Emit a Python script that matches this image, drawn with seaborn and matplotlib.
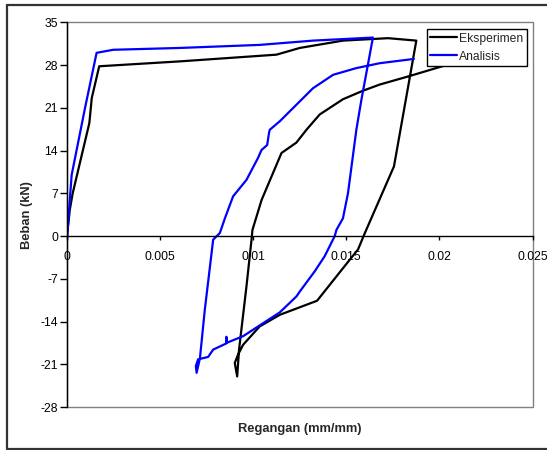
import seaborn as sns
from matplotlib import pyplot as plt
from matplotlib.patches import Rectangle
from matplotlib.lines import Line2D
import pandas as pd

sns.set_theme(style="white")
plt.rcParams['font.family'] = ['Liberation Sans', 'DejaVu Sans']
plt.rcParams['axes.unicode_minus'] = False

# Eksperimen (black) loop
eks_strain = [0.0, 0.00015, 0.000306, 0.0012, 0.00133, 0.00173, 0.00606, 0.01125, 0.0125,
              0.01482, 0.01724, 0.01876, 0.01756, 0.01607, 0.01593, 0.01563, 0.01518, 0.01343,
              0.01143, 0.01035, 0.00946, 0.00919, 0.00901, 0.00914, 0.00924, 0.00964, 0.00991,
              0.00996, 0.01045, 0.01152, 0.01232, 0.01286, 0.01357, 0.01482, 0.0159, 0.01679,
              0.0184, 0.02037, 0.0225]
eks_load = [0.0, 4.3, 7.0, 18.5, 22.6, 27.8, 28.6, 29.7, 30.8,
            32.0, 32.4, 32.0, 11.4, 1.0, 0.0, -2.2, -3.9, -10.6,
            -12.9, -14.8, -17.8, -19.4, -20.8, -23.0, -18.6, -8.2, -0.6,
            1.0, 5.9, 13.6, 15.3, 17.4, 19.9, 22.4, 23.8, 24.8,
            26.2, 28.0, 29.6]

# Analisis (blue) loop
ana_strain = [0.0, 0.00002, 0.00025, 0.00097, 0.00159, 0.00248, 0.00606, 0.01035, 0.01321,
              0.01643, 0.01581, 0.01554, 0.01509, 0.01482, 0.01447, 0.01438, 0.01402, 0.01384,
              0.0133, 0.0125, 0.01232, 0.01143, 0.00946, 0.00857, 0.00856, 0.00855, 0.00785,
              0.00758, 0.00704, 0.00692, 0.00696, 0.00714, 0.0074, 0.00785, 0.00821, 0.00848,
              0.00892, 0.00964, 0.01026, 0.01045, 0.01075, 0.01085, 0.01089, 0.01143, 0.01321,
              0.01429, 0.01554, 0.01679, 0.01863]
ana_load = [-0.6, 0.5, 10.0, 21.0, 30.0, 30.5, 30.8, 31.3, 32.0,
            32.5, 22.3, 17.4, 7.0, 2.9, 1.0, 0.0, -2.2, -3.3,
            -5.8, -9.1, -9.9, -12.5, -16.4, -17.5, -16.5, -17.6, -18.6,
            -19.8, -20.2, -21.3, -22.4, -20.0, -12.1, -0.6, 0.5, 2.9,
            6.5, 9.2, 12.8, 14.1, 14.9, 16.9, 17.4, 18.8, 24.2,
            26.4, 27.5, 28.3, 29.0]

x_ticks = [0, 0.005, 0.01, 0.015, 0.02, 0.025]
x_tick_labels = ['0', '0.005', '0.01', '0.015', '0.02', '0.025']
y_ticks = [-28, -21, -14, -7, 0, 7, 14, 21, 28, 35]

df = pd.concat([
    pd.DataFrame({'strain': eks_strain, 'load': eks_load, 'series': 'Eksperimen'}),
    pd.DataFrame({'strain': ana_strain, 'load': ana_load, 'series': 'Analisis'}),
], ignore_index=True)

W, H = 547, 450
fig = plt.figure(figsize=(W / 100, H / 100), dpi=100)
ax = fig.add_axes([67 / W, 1 - 407 / H, (532.5 - 67) / W, (407 - 22.3) / H])

sns.lineplot(data=df, x='strain', y='load', hue='series', sort=False, estimator=None,
             palette={'Eksperimen': 'black', 'Analisis': '#0000FF'}, linewidth=1.6, ax=ax)

ax.set_xlim(0, 0.025)
ax.set_ylim(-28, 35)

# plot area border (grey) like the spreadsheet chart
ax.add_patch(Rectangle((0, -28), 0.025, 63, fill=False, edgecolor='#808080', linewidth=1,
                       zorder=0.5, clip_on=False))
for s in ['top', 'right']:
    ax.spines[s].set_visible(False)
ax.spines['left'].set_color('black')
ax.spines['left'].set_linewidth(1)
ax.spines['bottom'].set_position(('data', 0))
ax.spines['bottom'].set_color('black')
ax.spines['bottom'].set_linewidth(1)

ax.set_xticks(x_ticks)
ax.set_xticklabels(x_tick_labels)
ax.set_yticks(y_ticks)
ax.tick_params(axis='x', direction='out', length=3, width=1, color='black', pad=7.5,
               labelsize=8.7, labelcolor='black', bottom=True)
ax.tick_params(axis='y', direction='out', length=5, width=1, color='black', pad=1.5,
               labelsize=8.7, labelcolor='black', left=True)

ax.set_xlabel('')
ax.set_ylabel('')
fig.text(300 / W, 1 - 429 / H, 'Regangan (mm/mm)', ha='center', va='center',
         fontsize=9.3, fontweight='bold')
fig.text(27 / W, 1 - 215 / H, 'Beban (kN)', ha='center', va='center', rotation=90,
         fontsize=9.3, fontweight='bold')

sns.move_legend(ax, 'upper right', bbox_to_anchor=(527 / W, 1 - 29 / H),
                bbox_transform=fig.transFigure, title=None, frameon=True, fancybox=False,
                edgecolor='black', framealpha=1, borderaxespad=0, fontsize=8.7,
                handlelength=2.2, handletextpad=0.2, borderpad=0.3, labelspacing=0.5)
ax.get_legend().get_frame().set_linewidth(1)

# outer chart border
fig.add_artist(Line2D([7 / W, 7 / W], [1 - 449 / H, 1 - 5 / H], color='#333333', linewidth=1.6))
fig.add_artist(Line2D([7 / W, 1.0], [1 - 5 / H, 1 - 5 / H], color='#333333', linewidth=1.6))
fig.add_artist(Line2D([7 / W, 1.0], [1 - 449 / H, 1 - 449 / H], color='#333333', linewidth=1.6))

fig.savefig('out.png', dpi=100)
